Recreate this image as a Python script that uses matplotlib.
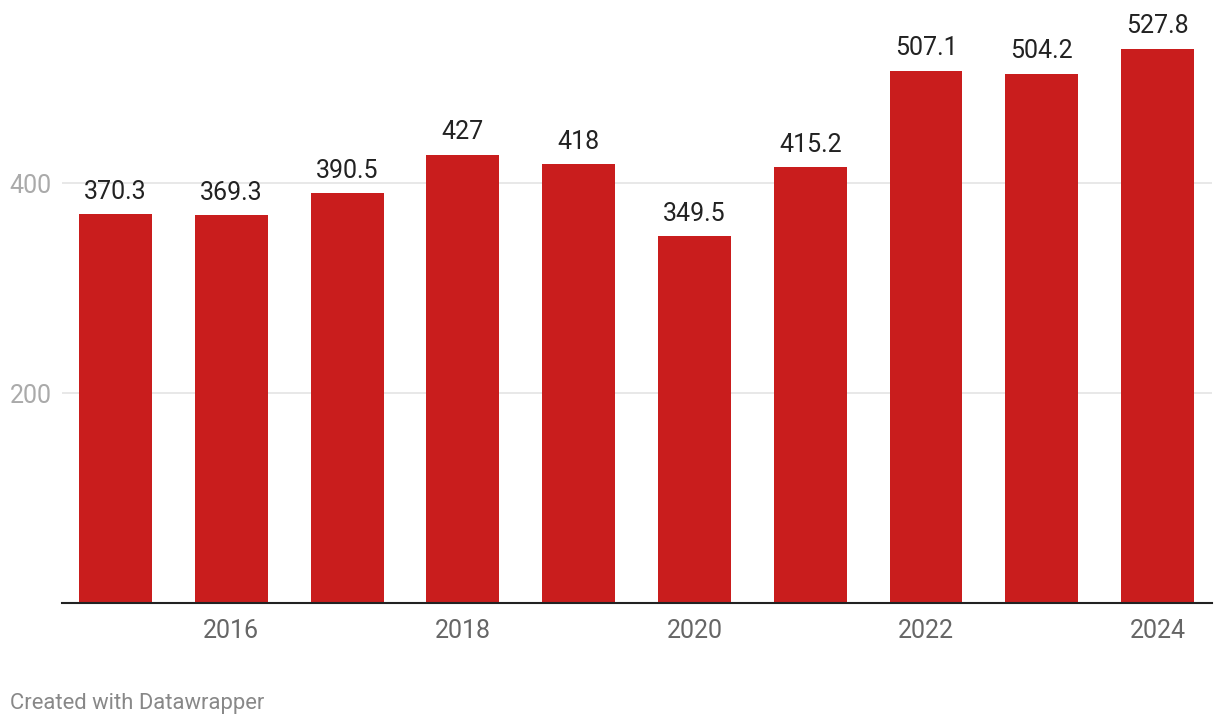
import matplotlib.pyplot as plt
import numpy as np

years = [2015, 2016, 2017, 2018, 2019, 2020, 2021, 2022, 2023, 2024]
values = [370.3, 369.3, 390.5, 427, 418, 349.5, 415.2, 507.1, 504.2, 527.8]
tick_years = [2016, 2018, 2020, 2022, 2024]
y_ticks = [200, 400]

plt.rcParams['font.family'] = ['Roboto', 'DejaVu Sans']

fig = plt.figure(figsize=(12.2, 7.26), dpi=100)
ax = fig.add_axes([62 / 1220, 123 / 726, 1150 / 1220, 603 / 726])

x = np.arange(len(years))
ax.bar(x, values, width=0.63, color='#c91d1d', zorder=2)

for xi, v in zip(x, values):
    ax.annotate(f'{v:g}', (xi, v), xytext=(0, 7.5), textcoords='offset points',
                ha='center', va='bottom', fontsize=18, color='#222222',
                annotation_clip=False, clip_on=False)

ax.set_xlim(-0.462, 9.47)
ax.set_ylim(0, 574.3)

ax.set_xticks([years.index(y) for y in tick_years])
ax.set_xticklabels([str(y) for y in tick_years], fontsize=18, color='#666666')
ax.set_yticks(y_ticks)
ax.set_yticklabels([str(v) for v in y_ticks], fontsize=18, color='#aaaaaa')
ax.tick_params(axis='x', length=0, pad=11.5)
ax.tick_params(axis='y', length=0, pad=7.5)

ax.grid(axis='y', color='#e4e4e4', linewidth=1.2, zorder=0)
for side in ['top', 'right', 'left']:
    ax.spines[side].set_visible(False)
ax.spines['bottom'].set_color('#222222')
ax.spines['bottom'].set_linewidth(1.5)
ax.spines['bottom'].set_zorder(3)

fig.text(10 / 1220, 1 - 703 / 726, 'Created with Datawrapper', fontsize=15.8,
         color='#888888', ha='left', va='center')

fig.savefig('out.png', dpi=100)
